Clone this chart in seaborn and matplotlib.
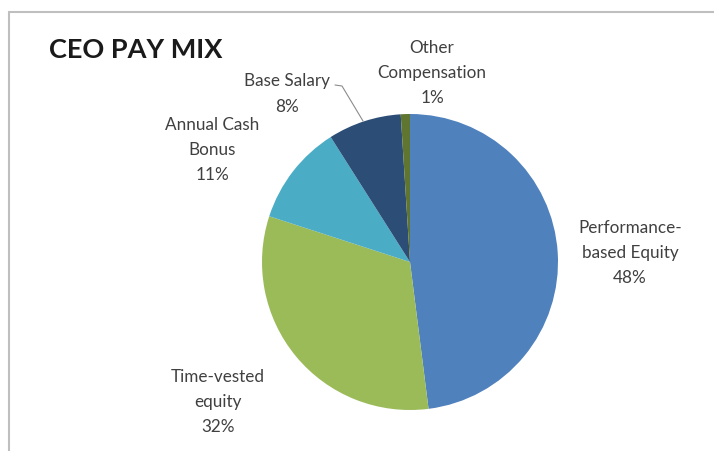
import matplotlib
matplotlib.use("Agg")
import matplotlib.pyplot as plt
import seaborn as sns

# data
categories = ['Performance-\nbased Equity', 'Time-vested\nequity', 'Annual Cash\nBonus', 'Base Salary', 'Other\nCompensation']
shares = [48, 32, 11, 8, 1]
colors = ['#4F81BD', '#9BBB59', '#4BACC6', '#2C4D75', '#5F7530']

# label centres in pixel coords (x, y from top)
label_pos = [(630, 253), (218, 402), (212, 150), (287, 94), (432, 73)]

sns.set_theme(style='white')
plt.rcParams['font.family'] = ['Lato', 'DejaVu Sans']

W, H = 714, 452
fig = plt.figure(figsize=(W / 100, H / 100), dpi=100)
ax = fig.add_axes([0, 0, 1, 1])

ax.pie(shares, colors=colors, startangle=90, counterclock=False,
       center=(410, H - 263), radius=148, frame=True,
       wedgeprops=dict(linewidth=0))
ax.set_xlim(0, W)
ax.set_ylim(0, H)
ax.set_aspect('equal')
ax.axis('off')

for cat, val, (x, y) in zip(categories, shares, label_pos):
    ax.text(x, H - y, '%s\n%d%%' % (cat, val), ha='center', va='center',
            fontsize=12.3, color='#404040', linespacing=1.72)

# leader line for base salary
ax.plot([335, 342, 363], [H - 86, H - 87, H - 122], color='#8c8c8c', lw=0.8)

# title
ax.text(49, H - 50, 'CEO PAY MIX', fontsize=19.5, fontweight='bold',
        color='#1a1a1a', ha='left', va='center')

# chart frame
ax.plot([9, W], [H - 13, H - 13], color='#BFBFBF', lw=1.5, clip_on=False)
ax.plot([9, 9], [H - 13, 0], color='#BFBFBF', lw=1.5, clip_on=False)

fig.savefig('out.png', dpi=100)
